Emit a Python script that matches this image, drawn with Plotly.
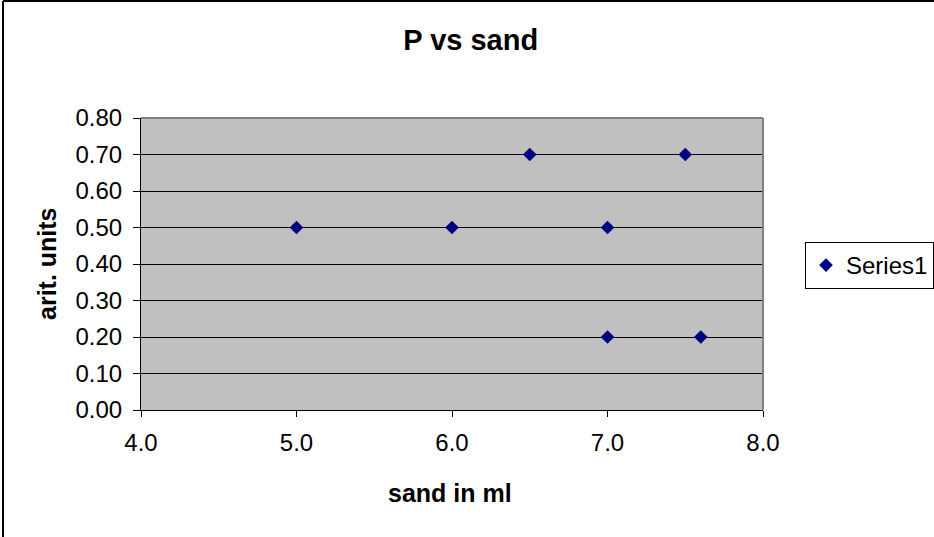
import plotly.graph_objects as go

# Measurements: sand volume (ml) against P (arbitrary units)
sand_ml = [5.0, 6.0, 6.5, 7.0, 7.5, 7.0, 7.6]
p_units = [0.5, 0.5, 0.7, 0.5, 0.7, 0.2, 0.2]

x_ticks = [4.0, 5.0, 6.0, 7.0, 8.0]
y_ticks = [0.0, 0.1, 0.2, 0.3, 0.4, 0.5, 0.6, 0.7, 0.8]

FONT = "Liberation Sans, Arial, sans-serif"
W, H = 934, 537
L, R, T, B = 141, 171, 118, 127
pw, ph = W - L - R, H - T - B

fig = go.Figure()
fig.add_trace(go.Scatter(
    x=sand_ml, y=p_units, mode="markers", name="Series1",
    marker=dict(symbol="diamond", size=10.5, color="#000080",
                line=dict(width=0)),
))

fig.update_layout(
    width=W, height=H,
    margin=dict(l=L, r=R, t=T, b=B, pad=0, autoexpand=False),
    paper_bgcolor="white",
    plot_bgcolor="#C0C0C0",
    font=dict(family=FONT, size=24, color="black"),
    title=dict(text="<b>P vs sand</b>", x=0.504, xanchor="center",
               y=1 - 40 / H, yanchor="middle", font=dict(size=29)),
    showlegend=True,
    legend=dict(x=(805 - L) / pw, y=(H - B - 242) / ph, xanchor="left",
                yanchor="top", bgcolor="white", bordercolor="black",
                borderwidth=1, font=dict(size=24),
                itemsizing="trace"),
    xaxis=dict(range=[4.0, 8.0], tickvals=x_ticks,
               ticktext=[f"{v:.1f}" for v in x_ticks],
               showgrid=False, zeroline=False,
               showline=True, linecolor="black", linewidth=1,
               ticks="outside", ticklen=6, tickcolor="black",
               ticklabelstandoff=5,
               tickfont=dict(size=24)),
    yaxis=dict(range=[0.0, 0.8], tickvals=y_ticks,
               ticktext=[f"{v:.2f}" for v in y_ticks],
               showgrid=True, gridcolor="black", gridwidth=1,
               zeroline=False,
               showline=True, linecolor="black", linewidth=1,
               ticks="outside", ticklen=7, tickcolor="black",
               ticklabelstandoff=6,
               tickfont=dict(size=24)),
    annotations=[
        dict(text="<b>sand in ml</b>", xref="paper", yref="paper",
             x=(450 - L) / pw, y=(H - B - 493) / ph,
             xanchor="center", yanchor="middle", showarrow=False,
             font=dict(size=25)),
        dict(text="<b>arit. units</b>", xref="paper", yref="paper",
             x=(47 - L) / pw, y=0.5, textangle=-90,
             xanchor="center", yanchor="middle", showarrow=False,
             font=dict(size=25)),
    ],
    shapes=[
        # grey frame on top and right of plot area
        dict(type="line", xref="paper", yref="paper", x0=0, x1=1, y0=1, y1=1,
             line=dict(color="#808080", width=2), layer="above"),
        dict(type="line", xref="paper", yref="paper", x0=1, x1=1, y0=0, y1=1,
             line=dict(color="#808080", width=2), layer="above"),
        # outer chart border (left and top edges)
        dict(type="line", xref="paper", yref="paper",
             x0=(3 - L) / pw, x1=(3 - L) / pw,
             y0=(H - B - 600) / ph, y1=(H - B - 1) / ph,
             line=dict(color="black", width=2), layer="above"),
        dict(type="line", xref="paper", yref="paper",
             x0=(3 - L) / pw, x1=(1000 - L) / pw,
             y0=(H - B - 1) / ph, y1=(H - B - 1) / ph,
             line=dict(color="black", width=2), layer="above"),
    ],
)

fig.write_html("out.html")
